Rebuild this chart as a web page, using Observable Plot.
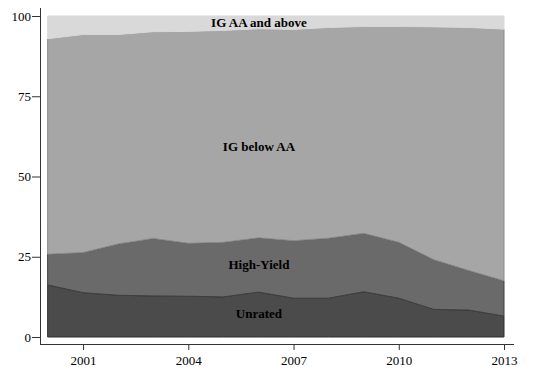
<!DOCTYPE html>
<html>
<head>
<meta charset="utf-8">
<script src="https://cdn.jsdelivr.net/npm/d3@7"></script>
<script src="https://cdn.jsdelivr.net/npm/@observablehq/plot@0.6"></script>
<style>
  html, body { margin: 0; padding: 0; background: #fff; }
  svg, svg text { font-family: "Liberation Serif", "Times New Roman", Times, serif !important; }
</style>
</head>
<body>
<div id="chart"></div>
<script>
const years = [2000, 2001, 2002, 2003, 2004, 2005, 2006, 2007, 2008, 2009, 2010, 2011, 2012, 2013];
const seriesNames = ["Unrated", "High-Yield", "IG below AA", "IG AA and above"];
const unrated    = [16.2, 13.8, 13.0, 12.8, 12.7, 12.5, 14.0, 12.1, 12.1, 14.1, 12.1, 8.6, 8.4, 6.5];
const highYield  = [9.6, 12.5, 16.0, 17.9, 16.5, 17.0, 16.9, 17.9, 18.7, 18.2, 17.4, 15.5, 12.3, 11.0];
const igBelowAA  = [67.1, 67.9, 65.2, 64.4, 66.0, 66.0, 65.1, 65.8, 65.6, 64.4, 67.2, 72.5, 75.7, 78.4];
const igAAAbove  = [7.1, 5.8, 5.8, 4.9, 4.8, 4.5, 4.0, 4.2, 3.6, 3.3, 3.3, 3.4, 3.6, 4.1];
const yTicks = [0, 25, 50, 75, 100];
const xTicks = [2001, 2004, 2007, 2010, 2013];
const fills   = ["#4b4b4b", "#6a6a6a", "#a6a6a6", "#d9d9d9"];
const strokes = ["#2e2e2e", "#3e3e3e", "#8a8a8a", "#d9d9d9"];
const labelX = [2006, 2006, 2006, 2006];
const labelY = [7.3, 22.7, 59.5, 98.1];

const valuesBySeries = [unrated, highYield, igBelowAA, igAAAbove];
const data = [];
seriesNames.forEach((s, i) => {
  years.forEach((yr, j) => data.push({series: s, year: yr, value: valuesBySeries[i][j], fill: fills[i], stroke: strokes[i]}));
});
const labels = seriesNames.map((s, i) => ({label: s, x: labelX[i], y: labelY[i]}));

const chart = Plot.plot({
  width: 535,
  height: 382,
  marginLeft: 48,
  marginRight: 31,
  marginTop: 16,
  marginBottom: 45,
  style: {fontFamily: "Liberation Serif, serif", fontSize: "13px", color: "#000", background: "#fff"},
  x: {domain: [2000, 2013], axis: null},
  y: {domain: [0, 100], axis: null},
  marks: [
    Plot.areaY(data, {x: "year", y: "value", z: "series", fill: "fill", stroke: "stroke", strokeWidth: 1}),
    Plot.text(labels, {x: "x", y: "y", text: "label", fontWeight: "bold", fontSize: 13, fill: "#000"}),
    Plot.axisY({ticks: yTicks, tickSize: 8, tickPadding: 1.5, dx: -8, stroke: "#333", fill: "#000", fontSize: 13, label: null}),
    Plot.axisX({ticks: xTicks, tickFormat: "d", tickSize: 6, tickPadding: 5, dy: 7, stroke: "#333", fill: "#000", fontSize: 13, label: null}),
    Plot.frame({anchor: "left", dx: -8, insetTop: -8, insetBottom: -7, stroke: "#333"}),
    Plot.frame({anchor: "bottom", dy: 7, insetLeft: -8, insetRight: -9, stroke: "#333"})
  ]
});
document.getElementById("chart").appendChild(chart);
</script>
</body>
</html>
